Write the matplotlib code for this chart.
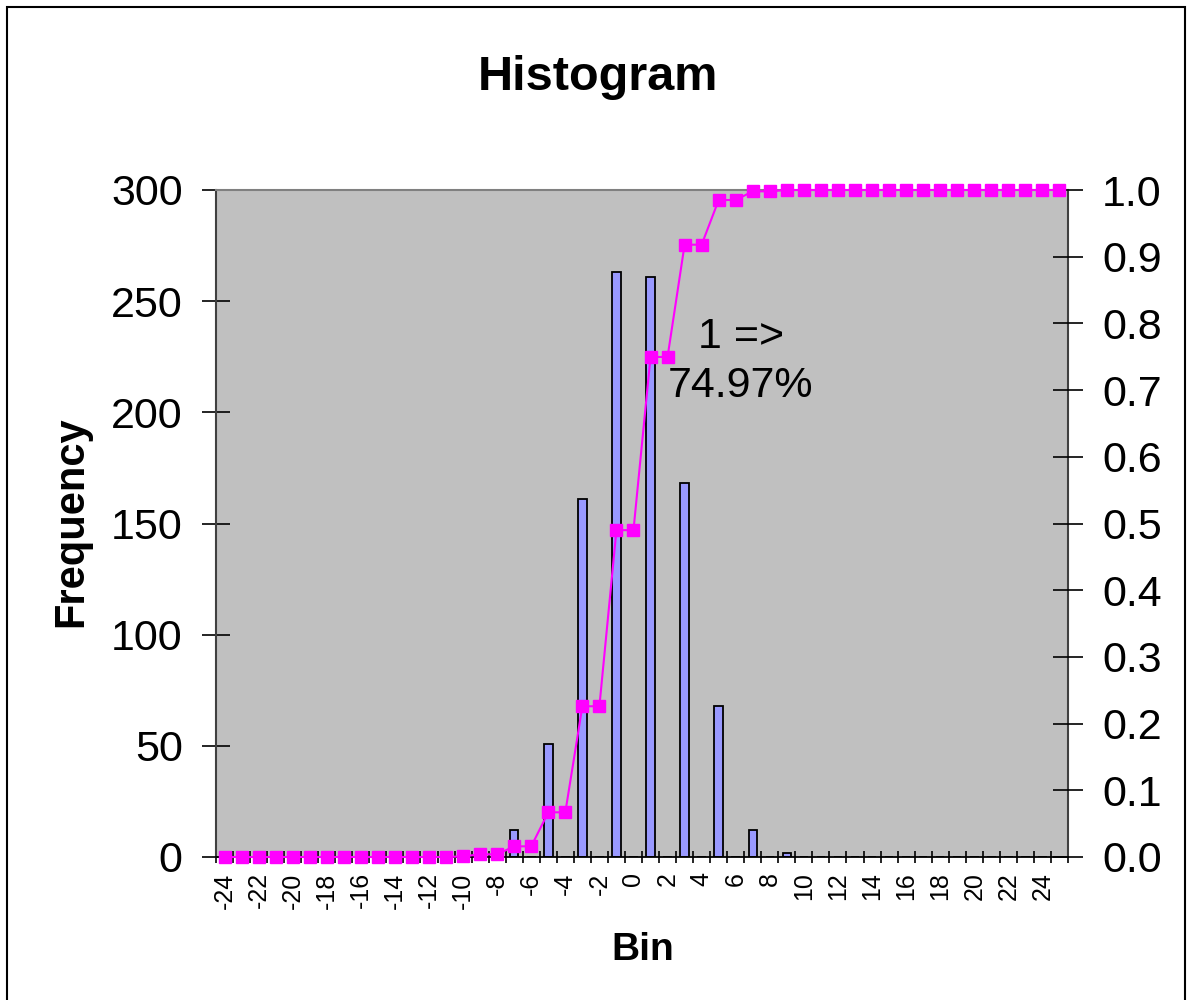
import matplotlib
matplotlib.use("Agg")
import matplotlib.pyplot as plt
from matplotlib.patches import Rectangle


# bin categories -24 .. 25
bins = list(range(-24, 26))

frequency = [
    0, 0, 0, 0, 0, 0, 0, 0, 0, 0,      # -24 .. -15
    0, 0, 0, 0, 0, 0, 0, 12, 0, 51,    # -14 .. -5
    0, 161, 0, 263, 0, 261, 0, 168, 0, 68,   # -4 .. 5
    0, 12, 0, 2, 0, 0, 0, 0, 0, 0,     # 6 .. 15
    0, 0, 0, 0, 0, 0, 0, 0, 0, 0,      # 16 .. 25
]

cumulative = [
    0.0, 0.0, 0.0, 0.0, 0.0, 0.0, 0.0, 0.0, 0.0, 0.0,               # -24 .. -15
    0.0, 0.0, 0.0, 0.0, 0.001, 0.004, 0.004, 0.016, 0.016, 0.067,   # -14 .. -5
    0.067, 0.226, 0.226, 0.49, 0.49, 0.7497, 0.7497, 0.918, 0.918, 0.985,  # -4 .. 5
    0.985, 0.998, 0.998, 1.0, 1.0, 1.0, 1.0, 1.0, 1.0, 1.0,         # 6 .. 15
    1.0, 1.0, 1.0, 1.0, 1.0, 1.0, 1.0, 1.0, 1.0, 1.0,               # 16 .. 25
]

freq_ticks = [0, 50, 100, 150, 200, 250, 300]
cum_ticks = [0.0, 0.1, 0.2, 0.3, 0.4, 0.5, 0.6, 0.7, 0.8, 0.9, 1.0]

FONT = "Liberation Sans"
BAR_COLOR = "#9999FF"
LINE_COLOR = "#FF00FF"


def plot_histogram():
    plt.rcParams["font.family"] = [FONT, "DejaVu Sans"]
    fig = plt.figure(figsize=(11.87, 10), dpi=100)
    ax = fig.add_axes([216 / 1187, 1 - 857 / 1000, (1068 - 216) / 1187, (857 - 190) / 1000])
    ax.set_facecolor("#C0C0C0")

    pos = list(range(len(bins)))
    ax.bar(pos, frequency, width=0.5, color=BAR_COLOR, edgecolor="black",
           linewidth=1.3, zorder=2)
    ax.set_xlim(-0.5, len(bins) - 0.5)
    ax.set_ylim(0, 300)
    ax.set_yticks(freq_ticks)
    ax.set_yticklabels([str(t) for t in freq_ticks])
    ax.tick_params(axis="y", direction="inout", length=20, width=1.2,
                   labelsize=31, pad=14)

    # tick marks at bin boundaries, labels at every other bin centre
    ax.set_xticks([p - 0.5 for p in pos] + [len(bins) - 0.5])
    ax.set_xticklabels([])
    ax.tick_params(axis="x", which="major", direction="inout", length=9, width=1.2)
    label_pos = [p for p, b in zip(pos, bins) if b % 2 == 0 and b < 25]
    ax.set_xticks(label_pos, minor=True)
    ax.set_xticklabels([str(bins[p]) for p in label_pos], minor=True,
                       rotation=90, fontsize=18)
    ax.tick_params(axis="x", which="minor", length=0, pad=11)

    ax.spines["left"].set_color("#404040")
    ax.spines["left"].set_linewidth(1.5)
    ax.spines["right"].set_color("#404040")
    ax.spines["right"].set_linewidth(1.5)
    ax.spines["top"].set_color("#808080")
    ax.spines["top"].set_linewidth(1.5)
    ax.spines["bottom"].set_linewidth(1.3)

    ax2 = ax.twinx()
    ax2.plot(pos, cumulative, color=LINE_COLOR, linewidth=1.5, marker="s",
             markersize=9, markerfacecolor=LINE_COLOR, markeredgecolor=LINE_COLOR,
             zorder=3, clip_on=False)
    ax2.set_ylim(0, 1.0)
    ax2.set_yticks(cum_ticks)
    ax2.set_yticklabels([f"{t:.1f}" for t in cum_ticks])
    ax2.tick_params(axis="y", direction="inout", length=21, width=1.2,
                    labelsize=31, pad=14)
    for s in ax2.spines.values():
        s.set_visible(False)

    ax2.text(30.3, 0.743, "1 =>\n74.97%", ha="center", va="center",
             fontsize=31, linespacing=1.3)

    fig.text(598 / 1187, 1 - 90 / 1000, "Histogram", ha="center", va="baseline",
             fontsize=35, fontweight="bold")
    fig.text(643 / 1187, 1 - 960 / 1000, "Bin", ha="center", va="baseline",
             fontsize=28, fontweight="bold")
    fig.text(71 / 1187, 1 - 522 / 1000, "Frequency", ha="center", va="center",
             rotation=90, fontsize=30, fontweight="bold")

    # outer chart border
    fig.patches.append(Rectangle((7 / 1187, -0.01), (1185 - 7) / 1187, 1.003,
                                 transform=fig.transFigure, fill=False,
                                 edgecolor="black", linewidth=1.5))

    fig.savefig("out.png", dpi=100)


def main():
    plot_histogram()


if __name__ == "__main__":
    main()
